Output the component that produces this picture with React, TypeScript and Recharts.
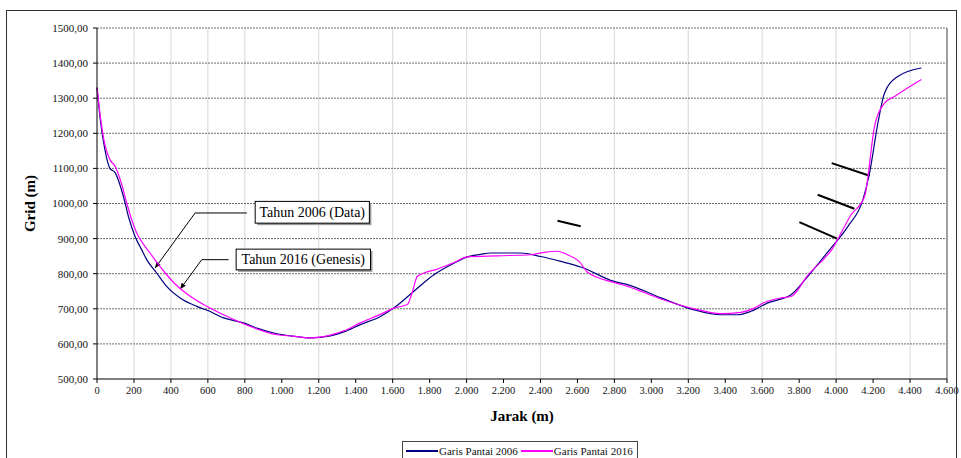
import { LineChart, Line, XAxis, YAxis, CartesianGrid, ReferenceLine, ReferenceArea } from "recharts";

// Garis Pantai 2006 (data)
const jarak2006 = [
  0, 20, 43, 70, 98, 143, 170, 206, 240, 269, 323, 377, 450, 540, 600, 685, 793, 865, 974, 1060,
  1154, 1263, 1340, 1425, 1534, 1606, 1715, 1823, 1932, 2004, 2076, 2130, 2293, 2401, 2510, 2618,
  2798, 2871, 3052, 3232, 3377, 3467, 3539, 3630, 3756, 3846, 3964, 4064, 4145, 4181, 4226, 4262,
  4334, 4461,
];
const grid2006 = [
  1330, 1230, 1153, 1100, 1088, 1020, 963, 906, 870, 840, 802, 764, 731, 707, 695, 674, 660, 645, 629, 622,
  617, 623, 635, 655, 678, 702, 750, 797, 830, 848, 855, 859, 859, 849, 835, 819,
  778, 769, 731, 697, 683, 683, 693, 717, 740, 792, 868, 935, 1011, 1087, 1229, 1315,
  1362, 1386,
];

// Garis Pantai 2016 (Genesis)
const jarak2016 = [
  0, 20, 43, 70, 98, 134, 161, 190, 215, 250, 287, 330, 377, 420, 468, 576, 685, 829, 974, 1060,
  1154, 1263, 1340, 1425, 1534, 1606, 1679, 1705, 1733, 1769, 1841, 1932, 2004, 2166, 2347, 2419,
  2492, 2546, 2609, 2655, 2798, 2871, 3052, 3232, 3377, 3485, 3557, 3612, 3702, 3756, 3846, 3982,
  4081, 4154, 4208, 4262, 4316, 4461,
];
const grid2016 = [
  1330, 1240, 1167, 1125, 1106, 1054, 1001, 950, 916, 885, 859, 828, 797, 772, 750, 712, 683, 650, 626, 622,
  617, 625, 638, 660, 684, 702, 712, 745, 792, 802, 813, 832, 848, 851, 854, 861,
  864, 854, 835, 804, 775, 764, 728, 700, 686, 690, 702, 718, 731, 735, 795, 873,
  968, 1020, 1220, 1286, 1305, 1353,
];

const xTicks = [0, 200, 400, 600, 800, 1000, 1200, 1400, 1600, 1800, 2000, 2200, 2400, 2600, 2800, 3000, 3200, 3400, 3600, 3800, 4000, 4200, 4400, 4600];
const yTicks = [500, 600, 700, 800, 900, 1000, 1100, 1200, 1300, 1400, 1500];

// short black marks drawn on the chart: [x1, y1, x2, y2]
const marks = [
  [2492, 951, 2618, 935],
  [3976, 1115, 4181, 1079],
  [3900, 1025, 4099, 985],
  [3801, 947, 4005, 900],
];

// callout boxes with their leader lines
const callouts = [
  { label: "Tahun 2006 (Data)", x1: 856, x2: 1474, y1: 944, y2: 1006, startX: 811, elbowX: 531, elbowY: 973, tipX: 314, tipY: 816 },
  { label: "Tahun 2016 (Genesis)", x1: 753, x2: 1480, y1: 811, y2: 870, startX: 712, elbowX: 567, elbowY: 840, tipX: 450, tipY: 756 },
];

const data2006 = jarak2006.map((x, i) => ({ jarak: x, grid: grid2006[i] }));
const data2016 = jarak2016.map((x, i) => ({ jarak: x, grid: grid2016[i] }));

const FONT = '"Liberation Serif", "Times New Roman", serif';

const fmtX = (v: number) => (v >= 1000 ? `${Math.floor(v / 1000)}.${String(v % 1000).padStart(3, "0")}` : `${v}`);
const fmtY = (v: number) => v.toFixed(2).replace(".", ",");

function ArrowShape(props: any) {
  const { x1, y1, x2, y2 } = props;
  const ang = Math.atan2(y2 - y1, x2 - x1);
  const len = 6;
  const w = 2.5;
  const bx = x2 - len * Math.cos(ang);
  const by = y2 - len * Math.sin(ang);
  const px = -Math.sin(ang) * w;
  const py = Math.cos(ang) * w;
  return (
    <g>
      <line x1={x1} y1={y1} x2={x2} y2={y2} stroke="#000" strokeWidth={1} />
      <polygon points={`${x2},${y2} ${bx + px},${by + py} ${bx - px},${by - py}`} fill="#000" />
    </g>
  );
}

function BoxShape(props: any) {
  const { x, y, width, height } = props;
  return (
    <g>
      <rect x={x + 2} y={y + 2} width={width} height={height} fill="#9a9a9a" />
      <rect x={x} y={y} width={width} height={height} fill="#fff" stroke="#000" strokeWidth={1} />
    </g>
  );
}

export default function App() {
  return (
    <div style={{ position: "absolute", left: 0, top: 0, width: 961, height: 458, overflow: "hidden", background: "#fff", fontFamily: FONT }}>
      <div style={{ position: "absolute", left: 0, top: 0 }}>
        <LineChart width={961} height={458} margin={{ top: 28, right: 14, left: 0, bottom: 0 }}>
          <CartesianGrid horizontal={false} stroke="#dedede" strokeWidth={1.2} verticalValues={xTicks.slice(1, -1)} />
          <CartesianGrid vertical={false} stroke="#6e6e6e" strokeDasharray="2 1" horizontalValues={yTicks.slice(1)} />
          <XAxis
            type="number"
            dataKey="jarak"
            domain={[0, 4600]}
            ticks={xTicks}
            tickFormatter={fmtX}
            height={79}
            tickSize={4}
            stroke="#000"
            tick={{ fontSize: 10.5, fontFamily: FONT, fill: "#111", dy: 2 }}
            label={{ value: "Jarak (m)", position: "insideTop", offset: 31, style: { fontSize: 15, fontWeight: "bold", fontFamily: FONT, fill: "#000" } }}
            allowDuplicatedCategory={false}
          />
          <YAxis
            type="number"
            domain={[500, 1500]}
            ticks={yTicks}
            tickFormatter={fmtY}
            width={97}
            tickSize={4}
            stroke="#000"
            tick={{ fontSize: 11, fontFamily: FONT, fill: "#111", dx: -3 }}
            label={{ value: "Grid (m)", angle: -90, position: "insideLeft", offset: 30, style: { textAnchor: "middle", fontSize: 15, fontWeight: "bold", fontFamily: FONT, fill: "#000" } }}
          />
          <ReferenceLine x={4600} stroke="#808080" strokeWidth={1.5} />
          {marks.map((m, i) => (
            <ReferenceLine key={`m${i}`} segment={[{ x: m[0], y: m[1] }, { x: m[2], y: m[3] }]} stroke="#000" strokeWidth={2} />
          ))}
          {callouts.map((c, i) => (
            <ReferenceLine key={`h${i}`} segment={[{ x: c.startX, y: c.elbowY }, { x: c.elbowX, y: c.elbowY }]} stroke="#000" strokeWidth={1} />
          ))}
          {callouts.map((c, i) => (
            <ReferenceLine key={`a${i}`} segment={[{ x: c.elbowX, y: c.elbowY }, { x: c.tipX, y: c.tipY }]} shape={ArrowShape} />
          ))}
          {callouts.map((c, i) => (
            <ReferenceArea
              key={`b${i}`}
              x1={c.x1}
              x2={c.x2}
              y1={c.y1}
              y2={c.y2}
              shape={BoxShape}
              label={{ value: c.label, position: "center", style: { fontSize: 14, fontFamily: FONT, fill: "#000" } }}
            />
          ))}
          <Line data={data2006} dataKey="grid" type="monotone" stroke="#000080" strokeWidth={1.2} dot={false} isAnimationActive={false} name="Garis Pantai 2006" />
          <Line data={data2016} dataKey="grid" type="monotone" stroke="#ff00ff" strokeWidth={1.2} dot={false} isAnimationActive={false} name="Garis Pantai 2016" />
        </LineChart>
      </div>
      <div
        style={{
          position: "absolute",
          left: 402,
          top: 441,
          width: 236,
          height: 24,
          border: "1px solid #444",
          borderLeftWidth: 1.5,
          background: "#fff",
          fontSize: 11,
          display: "flex",
          alignItems: "flex-start",
          paddingTop: 3,
          boxSizing: "border-box",
          whiteSpace: "nowrap",
        }}
      >
        {[
          { name: "Garis Pantai 2006", color: "#000080" },
          { name: "Garis Pantai 2016", color: "#ff00ff" },
        ].map((s) => (
          <div key={s.name} style={{ display: "flex", alignItems: "center", marginLeft: 3 }}>
            <div style={{ width: 32, height: 1.3, background: s.color, marginRight: 1 }} />
            <span style={{ color: "#111", lineHeight: "12px" }}>{s.name}</span>
          </div>
        ))}
      </div>
      <div style={{ position: "absolute", left: 6, top: 10, width: 949, height: 460, border: "1px solid #333", pointerEvents: "none" }} />
    </div>
  );
}
